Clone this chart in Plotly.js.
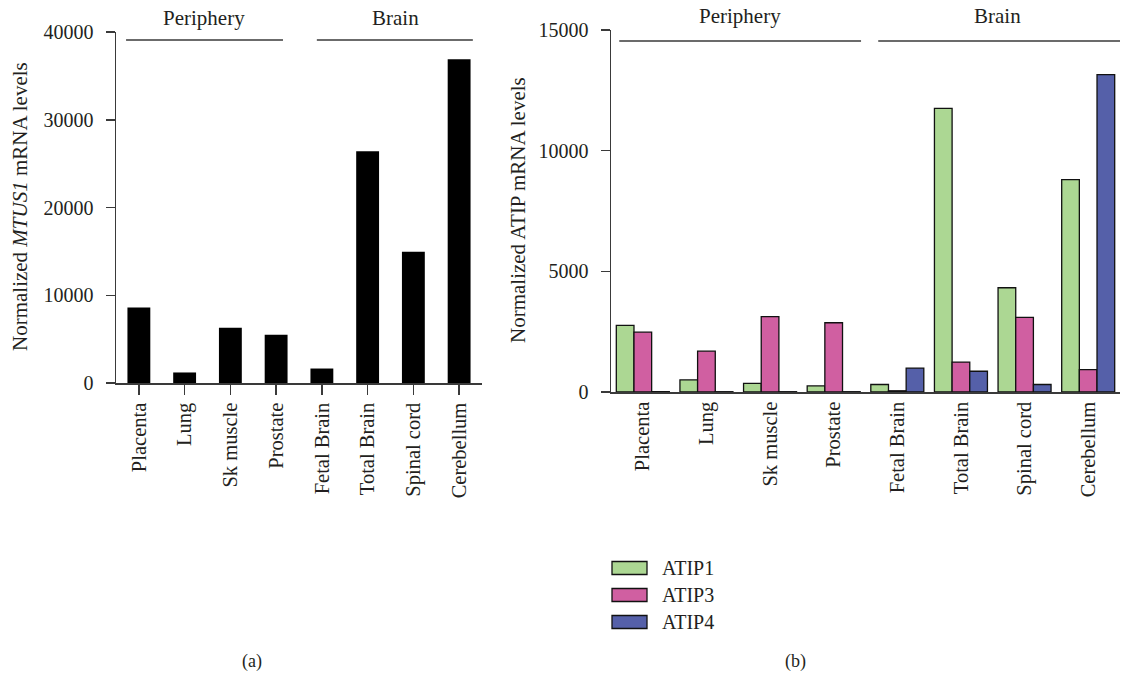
<!DOCTYPE html>
<html>
<head>
<meta charset="utf-8">
<script src="https://cdn.plot.ly/plotly-3.0.1.min.js"></script>
<style>html,body{margin:0;padding:0;background:#fff;}#chart{width:1123px;height:675px;}</style>
</head>
<body>
<div id="chart"></div>
<script>
const categories = ['Placenta', 'Lung', 'Sk muscle', 'Prostate', 'Fetal Brain', 'Total Brain', 'Spinal cord', 'Cerebellum'];
const mtus1 = [8600, 1200, 6300, 5500, 1650, 26400, 14950, 36900];
const atip1 = [2760, 500, 360, 250, 310, 11750, 4320, 8800];
const atip3 = [2480, 1690, 3120, 2870, 50, 1240, 3090, 930];
const atip4 = [15, 12, 12, 12, 990, 860, 310, 13150];
const seriesNames = ['ATIP1', 'ATIP3', 'ATIP4'];
const seriesColors = ['#acd793', '#d05fa1', '#5560a9'];
const leftTicks = [0, 10000, 20000, 30000, 40000];
const rightTicks = [0, 5000, 10000, 15000];
const groupLabels = ['Periphery', 'Brain'];
const panelLabels = ['(a)', '(b)'];
const yTitles = ['Normalized <i>MTUS1</i> mRNA levels', 'Normalized ATIP mRNA levels'];

const FONT = 'Liberation Serif, Times New Roman, serif';
const TXT = '#231f20';
const AX = '#3a3a3a';

const traces = [
  {
    type: 'bar', x: categories, y: mtus1, xaxis: 'x', yaxis: 'y',
    width: 0.5, marker: {color: '#000000', line: {width: 0}}, showlegend: false, hoverinfo: 'x+y'
  }
];
const atipData = [atip1, atip3, atip4];
for (let i = 0; i < 3; i++) {
  traces.push({
    type: 'bar', name: seriesNames[i], x: categories, y: atipData[i], xaxis: 'x2', yaxis: 'y2',
    marker: {color: seriesColors[i], line: {color: '#111111', width: 1.3}}, showlegend: false
  });
}

const xCommon = {
  type: 'category', range: [-0.5, 7.5], showgrid: false, zeroline: false,
  showline: true, linecolor: AX, linewidth: 1.5, tickangle: -90,
  tickfont: {family: FONT, size: 20.5, color: TXT}, fixedrange: true
};
const yCommon = {
  showgrid: false, zeroline: false, showline: true, linecolor: AX, linewidth: 1.5,
  ticks: 'outside', ticklen: 9, tickwidth: 1.5, tickcolor: AX, ticklabelstandoff: 8,
  tickfont: {family: FONT, size: 20, color: TXT}, fixedrange: true
};

const W = 1123, H = 675;
const px = v => v / W, py = v => (H - v) / H;

const shapes = [
  {type: 'line', xref: 'x', yref: 'paper', x0: -0.28, x1: 3.15, y0: py(40), y1: py(40), line: {color: AX, width: 1.5}},
  {type: 'line', xref: 'x', yref: 'paper', x0: 3.89, x1: 7.3, y0: py(40), y1: py(40), line: {color: AX, width: 1.5}},
  {type: 'line', xref: 'x2', yref: 'paper', x0: -0.37, x1: 3.43, y0: py(41), y1: py(41), line: {color: AX, width: 1.5}},
  {type: 'line', xref: 'x2', yref: 'paper', x0: 3.7, x1: 7.5, y0: py(41), y1: py(41), line: {color: AX, width: 1.5}}
];
const annotations = [
  {text: groupLabels[0], xref: 'x', yref: 'paper', x: 1.43, y: py(18), yanchor: 'middle', showarrow: false, font: {family: FONT, size: 21, color: TXT}},
  {text: groupLabels[1], xref: 'x', yref: 'paper', x: 5.6, y: py(18), yanchor: 'middle', showarrow: false, font: {family: FONT, size: 21, color: TXT}},
  {text: groupLabels[0], xref: 'x2', yref: 'paper', x: 1.53, y: py(16), yanchor: 'middle', showarrow: false, font: {family: FONT, size: 21, color: TXT}},
  {text: groupLabels[1], xref: 'x2', yref: 'paper', x: 5.57, y: py(16), yanchor: 'middle', showarrow: false, font: {family: FONT, size: 21, color: TXT}},
  {text: panelLabels[0], xref: 'paper', yref: 'paper', x: px(240), y: py(661), yanchor: 'middle', showarrow: false, font: {family: FONT, size: 18, color: TXT}},
  {text: panelLabels[1], xref: 'paper', yref: 'paper', x: px(808), y: py(661), yanchor: 'middle', showarrow: false, font: {family: FONT, size: 18, color: TXT}},
  {text: yTitles[0], xref: 'paper', yref: 'paper', x: px(20), y: py(207), xanchor: 'center', yanchor: 'middle', textangle: -90, showarrow: false, font: {family: FONT, size: 21, color: TXT}},
  {text: yTitles[1], xref: 'paper', yref: 'paper', x: px(518), y: py(210), xanchor: 'center', yanchor: 'middle', textangle: -90, showarrow: false, font: {family: FONT, size: 21, color: TXT}}
];
// legend (drawn as boxes + text to match the wide swatches of the original)
const legendRowY = [568, 595, 622];
for (let i = 0; i < seriesNames.length; i++) {
  shapes.push({type: 'rect', xref: 'paper', yref: 'paper', x0: px(612), x1: px(647),
    y0: py(legendRowY[i] - 6.5), y1: py(legendRowY[i] + 6.5),
    fillcolor: seriesColors[i], line: {color: '#111111', width: 1.3}});
  annotations.push({text: seriesNames[i], xref: 'paper', yref: 'paper', x: px(660), y: py(legendRowY[i]),
    xanchor: 'left', yanchor: 'middle', showarrow: false, font: {family: FONT, size: 20, color: TXT}});
}

const layout = {
  width: W, height: H,
  margin: {l: 0, r: 0, t: 0, b: 0},
  paper_bgcolor: '#ffffff', plot_bgcolor: '#ffffff',
  barmode: 'group', bargap: 0.167, bargroupgap: 0,
  font: {family: FONT, color: TXT},
  showlegend: false,
  xaxis: Object.assign({}, xCommon, {
    domain: [px(116), px(482)], anchor: 'y',
    ticks: 'outside', ticklen: 10, tickwidth: 1.5, tickcolor: AX
  }),
  yaxis: Object.assign({}, yCommon, {
    domain: [py(383), py(32)], anchor: 'x', range: [0, 40000], tickvals: leftTicks,
    ticktext: leftTicks.map(String)
  }),
  xaxis2: Object.assign({}, xCommon, {
    domain: [px(611), px(1120)], anchor: 'y2', ticks: ''
  }),
  yaxis2: Object.assign({}, yCommon, {
    domain: [py(392), py(30)], anchor: 'x2', range: [0, 15000], tickvals: rightTicks,
    ticktext: rightTicks.map(String)
  }),
  shapes: shapes,
  annotations: annotations
};

Plotly.newPlot('chart', traces, layout, {displayModeBar: false, staticPlot: true});
</script>
</body>
</html>
